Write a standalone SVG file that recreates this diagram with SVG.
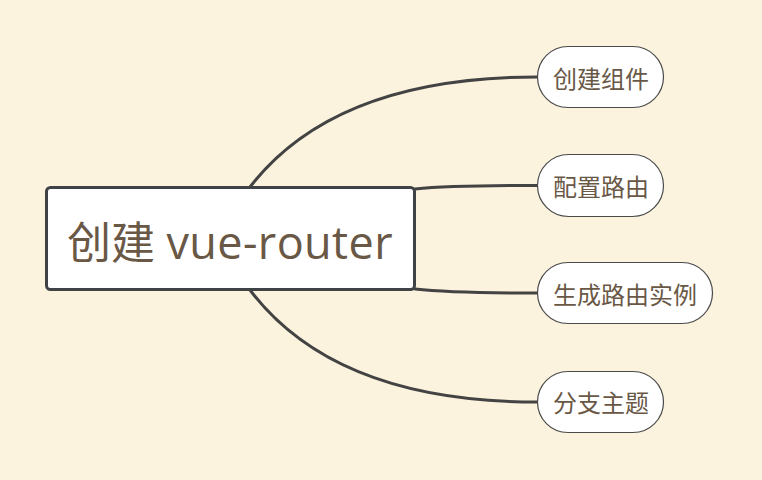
<svg xmlns="http://www.w3.org/2000/svg" width="762" height="480" viewBox="0 0 762 480">
<style>
.edge{fill:none;stroke:#434343;stroke-width:3;stroke-linecap:round}
.sub rect{fill:#ffffff;stroke:#4a4a4a;stroke-width:1.2}
.sub text{font-family:"Open Sans","Noto Sans CJK SC",sans-serif;font-size:24px;fill:#6a5846;text-anchor:middle}
</style>
<rect x="0" y="0" width="762" height="480" fill="#fbf3de"/>
<g id="connectors">
<path class="edge" d="M250 187 Q335 77 537 77"/>
<path class="edge" d="M415 189 Q450 185.5 537 185.5"/>
<path class="edge" d="M415 289 Q450 293 537 293"/>
<path class="edge" d="M250 290 Q335 402 537 402"/>
</g>
<g id="root">
<rect x="46.5" y="187.5" width="368" height="102" rx="4" fill="#ffffff" stroke="#404346" stroke-width="3"/>
<text x="67" y="259" font-family="'Open Sans','Noto Sans CJK SC',sans-serif" font-size="44" fill="#6a5846">创建 <tspan font-size="45" letter-spacing="0.4">vue-router</tspan></text>
</g>
<g id="node1" class="sub">
<rect x="537.5" y="46.5" width="126" height="61" rx="30.5"/>
<text x="601" y="88">创建组件</text>
</g>
<g id="node2" class="sub">
<rect x="537.5" y="154.5" width="126" height="62" rx="31"/>
<text x="601" y="196">配置路由</text>
</g>
<g id="node3" class="sub">
<rect x="537.5" y="262.5" width="175" height="61" rx="30.5"/>
<text x="625" y="304">生成路由实例</text>
</g>
<g id="node4" class="sub">
<rect x="537.5" y="371.5" width="126" height="61" rx="30.5"/>
<text x="601" y="412">分支主题</text>
</g>
</svg>
